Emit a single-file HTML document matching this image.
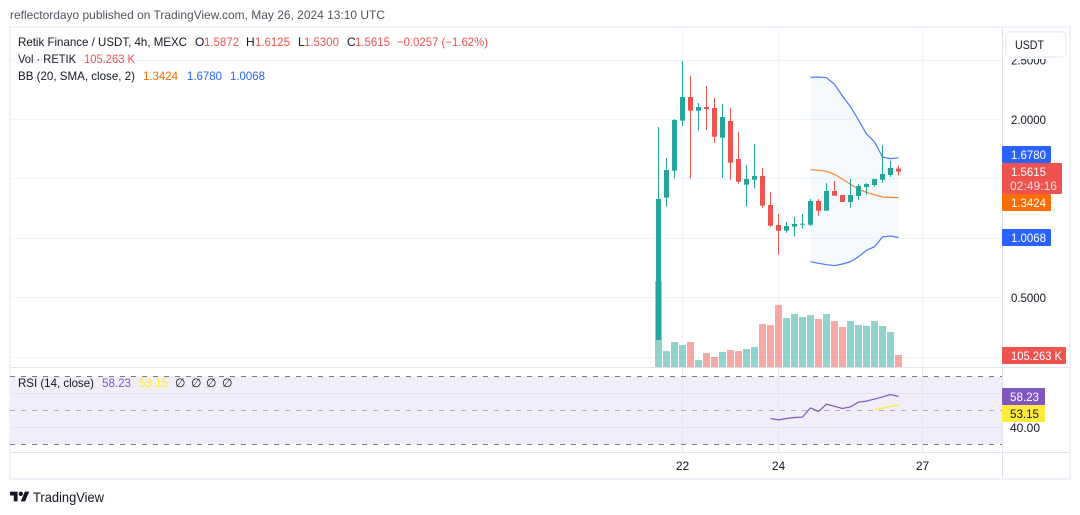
<!DOCTYPE html>
<html lang="en">
<head>
<meta charset="utf-8">
<title>Retik Finance / USDT chart</title>
<style>
html,body{margin:0;padding:0;background:#fff;width:1080px;height:515px;overflow:hidden}
svg{display:block;font-family:"Liberation Sans",sans-serif;font-size:12px}
</style>
</head>
<body>
<svg id="chart" xmlns="http://www.w3.org/2000/svg" width="1080" height="515" viewBox="0 0 1080 515">
  <rect x="0" y="0" width="1080" height="515" fill="#ffffff"/>
  <text x="10" y="19" fill="#50535e" textLength="375" lengthAdjust="spacingAndGlyphs">reflectordayo published on TradingView.com, May 26, 2024 13:10 UTC</text>
  <rect x="10" y="27" width="1060" height="452" fill="#ffffff" stroke="#f0f3fa" stroke-width="2"/>
  <rect x="11" y="376.5" width="991" height="68" fill="#7e57c2" fill-opacity="0.1"/>
  <g id="grid"></g>
  <g id="vols"></g>
  <g id="bands"></g>
  <g id="candles"></g>
  <g id="rsi"></g>

  <line x1="1002.5" y1="28" x2="1002.5" y2="478" stroke="#e0e3eb"/>
  <line x1="11" y1="367.5" x2="1069" y2="367.5" stroke="#e0e3eb"/>
  <line x1="11" y1="452.5" x2="1069" y2="452.5" stroke="#e0e3eb"/>

  <g id="axisLabels" fill="#131722"></g>

  <rect x="1004" y="29" width="64" height="30" fill="#ffffff"/>
  <rect x="1006" y="32" width="60" height="25" rx="4" fill="#ffffff" stroke="#f0f3fa" stroke-width="2"/>
  <text x="1015" y="49" fill="#131722" textLength="29" lengthAdjust="spacingAndGlyphs">USDT</text>

  <g>
    <text x="18" y="46" fill="#131722" textLength="169" lengthAdjust="spacingAndGlyphs">Retik Finance / USDT, 4h, MEXC</text>
    <text x="195" y="46" fill="#131722">O</text>
    <text x="204" y="46" fill="#ef5350" textLength="35" lengthAdjust="spacingAndGlyphs">1.5872</text>
    <text x="246" y="46" fill="#131722">H</text>
    <text x="255" y="46" fill="#ef5350" textLength="35" lengthAdjust="spacingAndGlyphs">1.6125</text>
    <text x="298" y="46" fill="#131722">L</text>
    <text x="304" y="46" fill="#ef5350" textLength="35" lengthAdjust="spacingAndGlyphs">1.5300</text>
    <text x="347" y="46" fill="#131722">C</text>
    <text x="355" y="46" fill="#ef5350" textLength="35" lengthAdjust="spacingAndGlyphs">1.5615</text>
    <text x="397" y="46" fill="#ef5350" textLength="91" lengthAdjust="spacingAndGlyphs">−0.0257 (−1.62%)</text>

    <text x="18" y="63" fill="#131722" textLength="58" lengthAdjust="spacingAndGlyphs">Vol · RETIK</text>
    <text x="84" y="63" fill="#ef5350" textLength="51" lengthAdjust="spacingAndGlyphs">105.263 K</text>

    <text x="18" y="80" fill="#131722" textLength="117" lengthAdjust="spacingAndGlyphs">BB (20, SMA, close, 2)</text>
    <text x="143" y="80" fill="#ff6d00" textLength="35" lengthAdjust="spacingAndGlyphs">1.3424</text>
    <text x="187" y="80" fill="#2962ff" textLength="35" lengthAdjust="spacingAndGlyphs">1.6780</text>
    <text x="230" y="80" fill="#2962ff" textLength="35" lengthAdjust="spacingAndGlyphs">1.0068</text>

    <text x="18" y="387" fill="#131722" textLength="76" lengthAdjust="spacingAndGlyphs">RSI (14, close)</text>
    <text x="102" y="387" fill="#7e57c2" textLength="29" lengthAdjust="spacingAndGlyphs">58.23</text>
    <text x="139" y="387" fill="#ffeb3b" textLength="29" lengthAdjust="spacingAndGlyphs">53.15</text>
    <text x="175" y="387" fill="#131722">∅</text>
    <text x="191" y="387" fill="#131722">∅</text>
    <text x="206" y="387" fill="#131722">∅</text>
    <text x="222" y="387" fill="#131722">∅</text>
  </g>

  <g>
    <rect x="1002" y="146" width="49" height="17" rx="1" fill="#2962ff"/>
    <text x="1011" y="159" fill="#ffffff" textLength="35" lengthAdjust="spacingAndGlyphs">1.6780</text>
    <rect x="1002" y="163" width="60" height="31" rx="1" fill="#ef5350"/>
    <text x="1011" y="176" fill="#ffffff" textLength="35" lengthAdjust="spacingAndGlyphs">1.5615</text>
    <text x="1010" y="190" fill="#ffffff" fill-opacity="0.8" textLength="47" lengthAdjust="spacingAndGlyphs">02:49:16</text>
    <rect x="1002" y="194" width="49" height="17" rx="1" fill="#ff6d00"/>
    <text x="1011" y="207" fill="#ffffff" textLength="35" lengthAdjust="spacingAndGlyphs">1.3424</text>
    <rect x="1002" y="229" width="49" height="17" rx="1" fill="#2962ff"/>
    <text x="1011" y="242" fill="#ffffff" textLength="35" lengthAdjust="spacingAndGlyphs">1.0068</text>
    <rect x="1002" y="347" width="64" height="17" rx="1" fill="#ef5350"/>
    <text x="1011" y="360" fill="#ffffff" textLength="51" lengthAdjust="spacingAndGlyphs">105.263 K</text>
    <rect x="1002" y="388" width="43" height="17" rx="1" fill="#7e57c2"/>
    <text x="1010" y="401" fill="#ffffff" textLength="29" lengthAdjust="spacingAndGlyphs">58.23</text>
    <rect x="1002" y="405" width="43" height="17" rx="1" fill="#ffeb3b"/>
    <text x="1010" y="418" fill="#131722" textLength="29" lengthAdjust="spacingAndGlyphs">53.15</text>
  </g>

  <g>
    <g transform="translate(10 489.5) scale(0.54)" fill="#131722">
      <path d="M14 22H7V11H0V4h14v18zM28 22h-8l7.5-18h8L28 22z"/>
      <circle cx="20" cy="8" r="4"/>
    </g>
    <text x="33" y="502" fill="#131722" font-size="14" textLength="71" lengthAdjust="spacingAndGlyphs">TradingView</text>
  </g>
</svg>
<script>
// Chart data
const candleOpen  = [0.1438,1.3417,1.5690,1.9899,2.1894,2.0741,2.1052,2.0968,1.8468,1.9874,1.6675,1.4511,1.4932,1.5244,1.2803,1.1119,1.0639,1.0976,1.1144,1.1144,1.3139,1.2323,1.3981,1.3644,1.3055,1.3560,1.4318,1.4486,1.4932,1.5328,1.5872];
const candleHigh  = [1.9369,1.6759,2.0042,2.4925,2.3662,2.1389,2.2820,2.1810,2.1305,2.0968,1.8948,1.6170,1.7938,1.5917,1.3897,1.2045,1.1372,1.1792,1.2045,1.3308,1.3308,1.4654,1.4823,1.3644,1.4991,1.4570,1.4654,1.4991,1.7853,1.6507,1.6125];
const candleLow   = [0.1438,1.2659,1.5016,1.9453,1.5016,1.9057,1.9116,1.8047,1.5101,1.4932,1.4596,1.2659,1.4175,1.2575,1.0976,0.8619,1.0471,1.0134,1.0807,1.1035,1.1902,1.2323,1.3585,1.3055,1.2575,1.3249,1.3670,1.4343,1.4680,1.5160,1.5300];
const candleClose = [1.3308,1.5749,1.9958,2.1894,2.0741,2.1052,2.0884,1.8552,2.0210,1.6363,1.4764,1.4991,1.5244,1.2744,1.1060,1.0639,1.1035,1.1203,1.1228,1.3139,1.2323,1.3981,1.3585,1.3055,1.3644,1.4402,1.4570,1.4991,1.5412,1.5917,1.5615];
const volumeK     = [754,140,219,193,219,61,123,88,132,149,140,158,175,377,368,544,430,465,439,456,421,465,403,351,403,368,360,403,360,307,105.263];
const bbStartIndex = 19;
const bbUpper = [2.3552,2.3578,2.3519,2.2963,2.1978,2.1078,1.9958,1.8779,1.8131,1.6843,1.6700,1.6780];
const bbBasis = [1.5774,1.5724,1.5639,1.5387,1.4966,1.4545,1.4124,1.3872,1.3670,1.3476,1.3451,1.3424];
const bbLower = [0.8029,0.7895,0.7777,0.7693,0.7836,0.8029,0.8450,0.8989,0.9292,1.0109,1.0193,1.0068];
const rsiStartIndex = 14;
const rsiValues = [45.3,44.5,45.3,45.9,46.1,51.6,49.4,53.7,52.5,51.2,52.2,54.9,55.5,56.7,58.0,59.4,58.23];
const rsiMaStartIndex = 27;
const rsiMaValues = [50.6,51.4,52.4,53.15];
const priceTicks = [2.5,2,1.5,1,0.5,0];
const priceTickLabels = ['2.5000','2.0000','1.5000','1.0000','0.5000','0.0000'];
const rsiGridTicks = [60,40];
const rsiGridLabels = ['60.00','40.00'];
const rsiBands = [70,50,30];
const timeTickIndex = [3,15,33];
const timeTickLabels = ['22','24','27'];

// Axis functions
function xAt(i){ return 658.5 + 8*i; }
function yPrice(p){ return 119.5 + (2-p)*118.8; }
function yVol(v){ return 367 - v*(12/105.263); }
function yRsi(v){ return 410.5 + (50-v)*1.7; }
function crisp(y){ return Math.round(y-0.5)+0.5; }

const NS = 'http://www.w3.org/2000/svg';
function mk(parentId, tag, attrs){
  const el = document.createElementNS(NS, tag);
  for (const k in attrs) el.setAttribute(k, attrs[k]);
  document.getElementById(parentId).appendChild(el);
  return el;
}
const UP = '#26a69a', DOWN = '#ef5350';

// Horizontal and vertical grid
priceTicks.forEach(function(p){
  const el = mk('grid','line',{x1:11,x2:1002,y1:crisp(yPrice(p)),y2:crisp(yPrice(p)),stroke:'#f0f3fa'});
  
  
});
rsiGridTicks.forEach(function(v){
  const el = mk('grid','line',{x1:11,x2:1002,y1:crisp(yRsi(v)),y2:crisp(yRsi(v)),stroke:'#e4e2ee'});
  
  
});
timeTickIndex.forEach(function(i){
  const top = mk('grid','line',{x1:xAt(i),x2:xAt(i),y1:28,y2:367,stroke:'#f0f3fa'});
  
  
  const bot = mk('grid','line',{x1:xAt(i),x2:xAt(i),y1:368,y2:452,stroke:'#e8e6f0'});
  
  
});
rsiBands.forEach(function(v){
  const mid = v === 50;
  const el = mk('grid','line',{x1:10,x2:1002,y1:crisp(yRsi(v)),y2:crisp(yRsi(v)),stroke:'#787b86','stroke-opacity':mid?0.55:1,'stroke-dasharray':'5 6'});
  
  
});

// Volume bars
volumeK.forEach(function(v,i){
  const up = candleClose[i] >= candleOpen[i];
  const el = mk('vols','rect',{x:xAt(i)-3.5,y:yVol(v),width:7,height:367-yVol(v),fill:up?UP:DOWN,'fill-opacity':0.5});
  
  
});

// Bollinger bands
function bandPath(arr){
  return arr.map(function(p,i){ return (i?'L':'M')+xAt(bbStartIndex+i).toFixed(1)+' '+yPrice(p).toFixed(1); }).join(' ');
}
const fillPts = bbUpper.map(function(p,i){ return xAt(bbStartIndex+i)+','+yPrice(p).toFixed(1); })
  .concat(bbLower.map(function(p,i){ return xAt(bbStartIndex+i)+','+yPrice(p).toFixed(1); }).reverse()).join(' ');
const bbFill = mk('bands','polygon',{points:fillPts,fill:'#2196f3','fill-opacity':0.05});


const bbUpperLine = mk('bands','path',{d:bandPath(bbUpper),fill:'none',stroke:'#2962ff','stroke-width':1.2,'stroke-opacity':0.85});


const bbLowerLine = mk('bands','path',{d:bandPath(bbLower),fill:'none',stroke:'#2962ff','stroke-width':1.2,'stroke-opacity':0.85});


const bbBasisLine = mk('bands','path',{d:bandPath(bbBasis),fill:'none',stroke:'#ff6d00','stroke-width':1.2,'stroke-opacity':0.85});



// Candlesticks
candleOpen.forEach(function(o,i){
  const c = candleClose[i], up = c >= o, col = up ? UP : DOWN;
  const wick = mk('candles','rect',{x:xAt(i)-0.5,y:yPrice(candleHigh[i]),width:1,height:yPrice(candleLow[i])-yPrice(candleHigh[i]),fill:col});
  
  
  const top = yPrice(Math.max(o,c)), bot = yPrice(Math.min(o,c));
  const body = mk('candles','rect',{x:xAt(i)-2.5,y:top,width:5,height:Math.max(1,bot-top),fill:col});
  
  
});

// RSI
function rsiPath(arr,start){
  return arr.map(function(v,i){ return (i?'L':'M')+xAt(start+i).toFixed(1)+' '+yRsi(v).toFixed(1); }).join(' ');
}
const rsiLine = mk('rsi','path',{d:rsiPath(rsiValues,rsiStartIndex),fill:'none',stroke:'#7e57c2','stroke-width':1.2});


const rsiMaLine = mk('rsi','path',{d:rsiPath(rsiMaValues,rsiMaStartIndex),fill:'none',stroke:'#ffeb3b','stroke-width':1.2});



// Axis labels
priceTicks.forEach(function(p,i){
  const t = mk('axisLabels','text',{x:1011,y:yPrice(p)+4.5,textLength:35,lengthAdjust:'spacingAndGlyphs'});
  t.textContent = priceTickLabels[i];
  
  
});
rsiGridTicks.forEach(function(v,i){
  const t = mk('axisLabels','text',{x:1010,y:yRsi(v)+4.5,textLength:30,lengthAdjust:'spacingAndGlyphs'});
  t.textContent = rsiGridLabels[i];
  
  
});
timeTickIndex.forEach(function(i,k){
  const t = mk('axisLabels','text',{x:xAt(i),y:470,'text-anchor':'middle'});
  t.textContent = timeTickLabels[k];
  
  
});
</script>
</body>
</html>
